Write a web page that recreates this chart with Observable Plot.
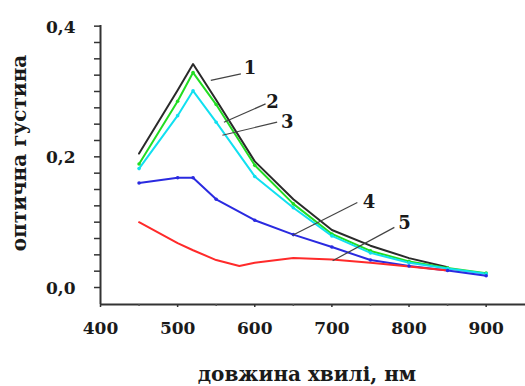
<!DOCTYPE html>
<html>
<head>
<meta charset="utf-8">
<script src="https://cdn.jsdelivr.net/npm/d3@7"></script>
<script src="https://cdn.jsdelivr.net/npm/@observablehq/plot@0.6"></script>
<style>
  html, body { margin: 0; padding: 0; background: #fff; }
</style>
</head>
<body>
<div id="chart"></div>
<script>
// Wavelengths (nm)
const wl = [450, 500, 520, 550, 600, 650, 700, 750, 800, 850, 900];
const wl1 = [450, 500, 520, 550, 600, 650, 700, 750, 800, 850];
const wl5 = [450, 500, 520, 550, 580, 600, 650, 700, 750, 800, 850];

// Optical density series
const s1 = [0.205, 0.302, 0.342, 0.287, 0.193, 0.135, 0.088, 0.064, 0.045, 0.031];
const s2 = [0.189, 0.285, 0.329, 0.280, 0.187, 0.128, 0.082, 0.056, 0.040, 0.030, 0.022];
const s3 = [0.182, 0.263, 0.301, 0.253, 0.170, 0.122, 0.079, 0.053, 0.038, 0.029, 0.021];
const s4 = [0.160, 0.168, 0.168, 0.135, 0.103, 0.081, 0.062, 0.042, 0.033, 0.026, 0.018];
const s5 = [0.100, 0.068, 0.057, 0.042, 0.033, 0.038, 0.045, 0.043, 0.038, 0.032, 0.026];

const seriesNames = ["1", "2", "3", "4", "5"];
const seriesColors = ["#2a2a2a", "#22dd22", "#11e0f0", "#2a2ae0", "#ff2a2a"];

// Axis ticks
const xTicks = [400, 500, 600, 700, 800, 900];
const xMinorTicks = [450, 550, 650, 750, 850];
const yTickLabels = [0.0, 0.2, 0.4];
const yMinorTicks = d3.range(0, 0.4001, 0.025);

// Curve labels with leader lines (data coordinates)
const labelNames = ["1", "2", "3", "4", "5"];
const leaderFromX = [543, 560, 558, 649, 701];
const leaderFromY = [0.317, 0.253, 0.233, 0.080, 0.041];
const leaderToX = [582, 614, 629, 733, 781];
const leaderToY = [0.327, 0.281, 0.253, 0.130, 0.092];
const labelX = [594, 623, 642, 748, 794];
const labelY = [0.335, 0.284, 0.253, 0.131, 0.098];

const xs = [wl1, wl, wl, wl, wl5];
const ys = [s1, s2, s3, s4, s5];
const rows = [];
ys.forEach((vals, i) => vals.forEach((v, j) => rows.push({series: seriesNames[i], wl: xs[i][j], od: v})));
const labels = labelNames.map((n, i) => ({
  name: n, x1: leaderFromX[i], y1: leaderFromY[i], x2: leaderToX[i], y2: leaderToY[i], lx: labelX[i], ly: labelY[i]
}));

const font = "DejaVu Serif";
const yMin = -0.026;

const chart = Plot.plot({
  width: 525,
  height: 386,
  marginLeft: 100,
  marginRight: 0,
  marginTop: 25,
  marginBottom: 82,
  style: {background: "#fff", fontFamily: font},
  x: {domain: [400, 951], axis: null},
  y: {domain: [yMin, 0.401], axis: null},
  color: {domain: seriesNames, range: seriesColors},
  marks: [
    // axes lines
    Plot.ruleX([400], {stroke: "#333", strokeWidth: 2}),
    Plot.ruleY([yMin], {stroke: "#333", strokeWidth: 2}),
    Plot.axisY(yMinorTicks, {anchor: "left", tickSize: 6, tickFormat: () => "", label: null, stroke: "#333", strokeWidth: 1.5}),
    Plot.axisX(xTicks, {anchor: "bottom", tickSize: 3, tickFormat: () => "", label: null, stroke: "#333", strokeWidth: 1.5}),
    Plot.axisX(xMinorTicks, {anchor: "bottom", tickSize: 2, tickFormat: () => "", label: null, stroke: "#555", strokeWidth: 1.5}),
    Plot.text(yTickLabels, {x: 400, y: d => d, dx: -25, dy: 1, textAnchor: "end", text: d => d.toFixed(1).replace(".", ","), fontSize: 17, fontWeight: "bold", fill: "#1a1a1a"}),
    Plot.text(xTicks, {x: d => d, y: yMin, dy: 24, text: d => String(d), fontSize: 17, fontWeight: "bold", fill: "#1a1a1a"}),
    Plot.text(["оптична густина"], {frameAnchor: "left", textAnchor: "middle", dx: -81, dy: -12, rotate: -90, fontSize: 20, fontWeight: "bold", fill: "#1a1a1a"}),
    Plot.text(["довжина хвилі, нм"], {frameAnchor: "bottom", textAnchor: "middle", dx: -6, dy: 76, fontSize: 20, fontWeight: "bold", fill: "#1a1a1a"}),
    // curves
    Plot.line(rows, {x: "wl", y: "od", z: "series", stroke: "series", strokeWidth: 2, curve: "linear"}),
    Plot.dot(rows.filter(d => d.series !== "1" && d.series !== "5"), {x: "wl", y: "od", fill: "series", r: 1.8}),
    // leader lines and labels
    Plot.link(labels, {x1: "x1", y1: "y1", x2: "x2", y2: "y2", stroke: "#444", strokeWidth: 1.2}),
    Plot.text(labels, {x: "lx", y: "ly", text: "name", fontSize: 18, fontWeight: "bold", fill: "#1a1a1a"})
  ]
});
document.getElementById("chart").appendChild(chart);
</script>
</body>
</html>
